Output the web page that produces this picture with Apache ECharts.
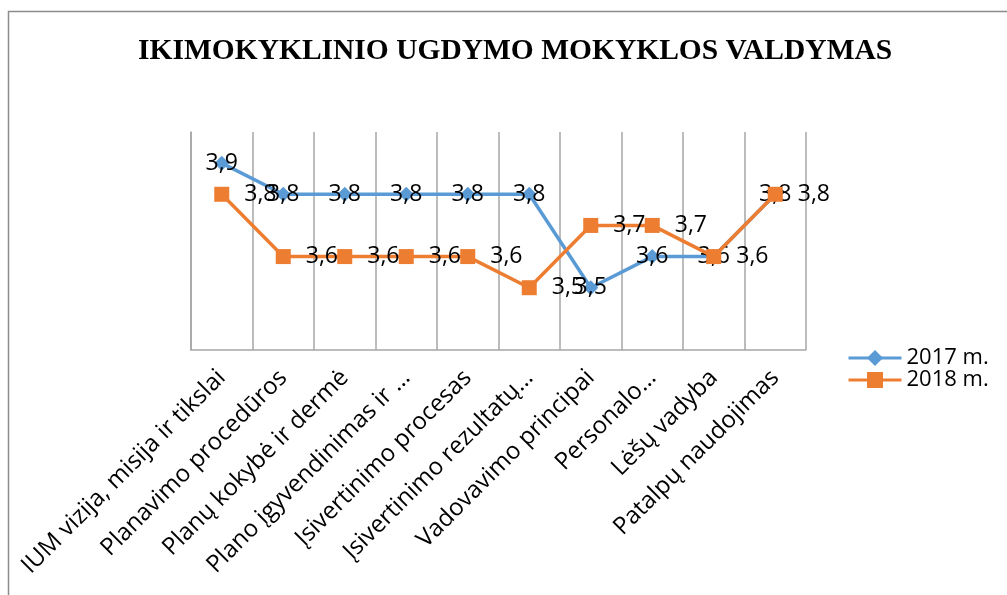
<!DOCTYPE html>
<html>
<head>
<meta charset="utf-8">
<script src="https://cdn.jsdelivr.net/npm/echarts@6/dist/echarts.min.js"></script>
<style>
    html, body { margin: 0; padding: 0; background: #fff; }
    #chart { width: 1007px; height: 595px; }
</style>
</head>
<body>
<div id="chart"></div>
<script>
// duomenys
var categories = [
    'IUM vizija, misija ir tikslai',
    'Planavimo procedūros',
    'Planų kokybė ir dermė',
    'Plano įgyvendinimas ir …',
    'Įsivertinimo procesas',
    'Įsivertinimo rezultatų…',
    'Vadovavimo principai',
    'Personalo…',
    'Lėšų vadyba',
    'Patalpų naudojimas'
];
var values2017 = [3.9, 3.8, 3.8, 3.8, 3.8, 3.8, 3.5, 3.6, 3.6, 3.8];
var values2018 = [3.8, 3.6, 3.6, 3.6, 3.6, 3.5, 3.7, 3.7, 3.6, 3.8];
var seriesNames = ['2017 m.', '2018 m.'];

var chart = echarts.init(document.getElementById('chart'), null, {renderer: 'canvas'});

var font = '"Open Sans", sans-serif';
var gridColor = '#a6a6a6';

function fmt(p) {
    return String(p.value).replace('.', ',');
}

chart.setOption({
    animation: false,
    backgroundColor: '#fff',
    graphic: [{
        type: 'rect',
        shape: {x: 8.5, y: 11.5, width: 1100, height: 700},
        style: {fill: 'none', stroke: '#8c8c8c', lineWidth: 1.5},
        silent: true,
        z: -10
    }],
    title: {
        text: 'IKIMOKYKLINIO UGDYMO MOKYKLOS VALDYMAS',
        left: 133,
        top: 31,
        textStyle: {
            fontFamily: '"Liberation Serif", serif',
            fontWeight: 'bold',
            fontSize: 29.5,
            color: '#000'
        }
    },
    legend: {
        orient: 'vertical',
        left: 847,
        top: 347,
        padding: 0,
        itemWidth: 53,
        itemHeight: 20,
        itemGap: 0,
        data: seriesNames,
        lineStyle: {width: 3},
        textStyle: {fontFamily: font, fontSize: 22, lineHeight: 21, color: '#000'}
    },
    grid: {left: 191, right: 201, top: 132, bottom: 245, containLabel: false},
    xAxis: {
        type: 'category',
        data: categories,
        boundaryGap: true,
        axisLine: {show: true, lineStyle: {color: gridColor, width: 1.5}},
        axisTick: {show: false},
        splitLine: {show: true, lineStyle: {color: gridColor, width: 1.5}},
        axisLabel: {
            interval: 0,
            rotate: 45,
            margin: 24,
            fontFamily: font,
            fontSize: 24,
            color: '#000'
        }
    },
    yAxis: {
        type: 'value',
        min: 3.3,
        max: 4.0,
        interval: 0.1,
        axisLine: {show: true, lineStyle: {color: gridColor, width: 1.5}},
        axisTick: {show: false},
        axisLabel: {show: false},
        splitLine: {show: false}
    },
    series: [{
        name: seriesNames[0],
        type: 'line',
        data: values2017,
        symbol: 'diamond',
        symbolSize: 15,
        color: '#5b9bd5',
        lineStyle: {width: 3.5, color: '#5b9bd5'},
        z: 2,
        label: {
            show: true,
            position: 'inside',
            formatter: fmt,
            fontFamily: font,
            fontSize: 23,
            color: '#000'
        }
    }, {
        name: seriesNames[1],
        type: 'line',
        data: values2018,
        symbol: 'rect',
        symbolSize: 15,
        color: '#ed7d31',
        lineStyle: {width: 3.5, color: '#ed7d31'},
        z: 3,
        label: {
            show: true,
            position: 'right',
            distance: 15,
            formatter: fmt,
            fontFamily: font,
            fontSize: 23,
            color: '#000'
        }
    }]
});
</script>
</body>
</html>
